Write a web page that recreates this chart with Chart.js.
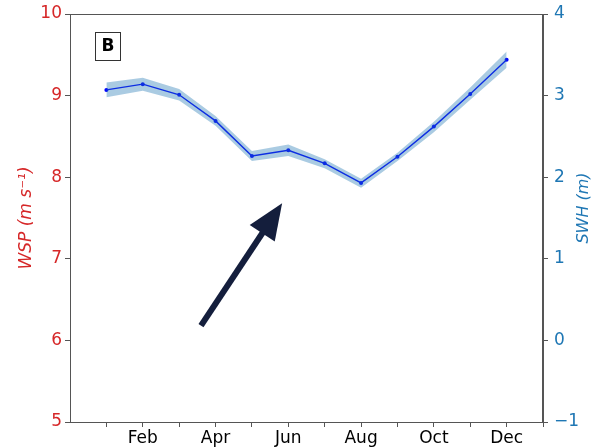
<!DOCTYPE html>
<html>
<head>
<meta charset="utf-8">
<script src="https://cdn.jsdelivr.net/npm/chart.js@4/dist/chart.umd.min.js"></script>
<style>
  html, body { margin: 0; padding: 0; background: #fff; }
  #wrap { width: 593px; height: 447px; }
</style>
</head>
<body>
<div id="wrap"><canvas id="c" width="593" height="447"></canvas></div>
<script>
// Monthly mean wind speed with its spread band
const months = ['Jan','Feb','Mar','Apr','May','Jun','Jul','Aug','Sep','Oct','Nov','Dec'];
const wsp     = [9.07, 9.14, 9.01, 8.69, 8.26, 8.33, 8.17, 7.93, 8.25, 8.62, 9.02, 9.44];
const wspLow  = [8.98, 9.06, 8.94, 8.63, 8.20, 8.26, 8.11, 7.87, 8.20, 8.55, 8.95, 9.34];
const wspHigh = [9.16, 9.22, 9.08, 8.75, 8.32, 8.40, 8.22, 7.98, 8.30, 8.68, 9.10, 9.54];
const wspTicks = [5, 6, 7, 8, 9, 10];
const swhTicks = [-1, 0, 1, 2, 3, 4];
const panelLabel = 'B';
const swhTitle = 'SWH (m)';
// annotation arrow, in (month, WSP) units
const arrowFrom = [3.60, 6.18];
const arrowTo   = [5.83, 7.68];

const RED = '#d62728';
const TEAL = '#1f77b4';
const SPINE = '#555555';
const FONT = "'DejaVu Sans', sans-serif";

const pts = arr => arr.map((v, i) => ({ x: i + 1, y: v }));

const frame = {
  id: 'frame',
  afterDatasetsDraw(chart) {
    const { ctx, chartArea: a, scales } = chart;
    ctx.save();
    // box round the plot
    ctx.strokeStyle = SPINE;
    ctx.lineWidth = 1;
    ctx.strokeRect(a.left + 0.5, a.top + 0.5, a.right - a.left - 1, a.bottom - a.top);
    // panel letter
    const bx = a.left + 25, by = a.top + 18, bw = 25, bh = 28;
    ctx.fillStyle = '#fff';
    ctx.fillRect(bx, by, bw, bh);
    ctx.strokeStyle = '#333';
    ctx.strokeRect(bx + 0.5, by + 0.5, bw, bh);
    ctx.font = "bold 17px " + FONT;
    ctx.textAlign = 'center';
    ctx.textBaseline = 'middle';
    ctx.fillStyle = '#000';
    ctx.fillText(panelLabel, bx + bw / 2 + 0.5, by + bh / 2 + 1);
    // right axis title, read bottom to top
    ctx.save();
    ctx.translate(a.right + 41, (a.top + a.bottom) / 2 - 10);
    ctx.rotate(-Math.PI / 2);
    ctx.font = "italic 16px " + FONT;
    ctx.fillStyle = TEAL;
    ctx.fillText(swhTitle, 0, 0);
    ctx.restore();
    // arrow
    const x0 = scales.x.getPixelForValue(arrowFrom[0]);
    const y0 = scales.y.getPixelForValue(arrowFrom[1]);
    const x1 = scales.x.getPixelForValue(arrowTo[0]);
    const y1 = scales.y.getPixelForValue(arrowTo[1]);
    const ang = Math.atan2(y1 - y0, x1 - x0);
    const headLen = 36, headHalf = 15;
    const hx = x1 - headLen * Math.cos(ang), hy = y1 - headLen * Math.sin(ang);
    ctx.strokeStyle = '#141e3c';
    ctx.fillStyle = '#141e3c';
    ctx.lineWidth = 6;
    ctx.lineCap = 'butt';
    ctx.beginPath();
    ctx.moveTo(x0, y0);
    ctx.lineTo(hx + 4 * Math.cos(ang), hy + 4 * Math.sin(ang));
    ctx.stroke();
    ctx.beginPath();
    ctx.moveTo(x1, y1);
    ctx.lineTo(hx - headHalf * Math.sin(ang), hy + headHalf * Math.cos(ang));
    ctx.lineTo(hx + headHalf * Math.sin(ang), hy - headHalf * Math.cos(ang));
    ctx.closePath();
    ctx.fill();
    ctx.restore();
  }
};

const fitVertical = w => s => { s.width = w; s.paddingTop = 0; s.paddingBottom = 0; };

new Chart(document.getElementById('c'), {
  type: 'line',
  data: {
    datasets: [
      {
        data: pts(wspLow),
        borderWidth: 0,
        pointRadius: 0,
        fill: false,
        yAxisID: 'y'
      },
      {
        data: pts(wspHigh),
        borderWidth: 0,
        pointRadius: 0,
        backgroundColor: 'rgba(31,119,180,0.38)',
        fill: '-1',
        yAxisID: 'y'
      },
      {
        data: pts(wsp),
        borderColor: '#0000ff',
        borderWidth: 1.4,
        pointRadius: 2,
        pointBackgroundColor: '#0000ff',
        pointBorderWidth: 0,
        fill: false,
        yAxisID: 'y'
      }
    ]
  },
  options: {
    responsive: false,
    animation: false,
    events: [],
    layout: { padding: { top: 14, left: 0, right: 0, bottom: 0 } },
    plugins: { legend: { display: false }, tooltip: { enabled: false } },
    scales: {
      x: {
        type: 'linear',
        min: 0,
        max: 13,
        afterBuildTicks: s => { s.ticks = months.map((m, i) => ({ value: i + 1 })).concat([{ value: 13 }]); },
        afterFit: s => { s.height = 25; s.paddingLeft = 0; s.paddingRight = 0; },
        ticks: {
          autoSkip: false,
          maxRotation: 0,
          padding: 1,
          color: '#000',
          font: { family: FONT, size: 17 },
          callback: v => (v % 2 === 0 && v <= 12) ? months[v - 1] : ''
        },
        grid: { drawOnChartArea: false, drawTicks: true, tickLength: 5, tickColor: SPINE },
        border: { display: true, color: SPINE }
      },
      y: {
        position: 'left',
        min: 5,
        max: 10,
        afterBuildTicks: s => { s.ticks = wspTicks.map(v => ({ value: v })); },
        afterFit: fitVertical(70),
        ticks: { color: RED, padding: 3, font: { family: FONT, size: 17 } },
        grid: { drawOnChartArea: false, drawTicks: true, tickLength: 5, tickColor: SPINE },
        border: { display: true, color: SPINE },
        title: {
          display: true,
          text: 'WSP (m s⁻¹)',
          color: RED,
          padding: { top: 16, bottom: 0 },
          font: { family: FONT, size: 17, style: 'italic' }
        }
      },
      y2: {
        position: 'right',
        min: -1,
        max: 4,
        afterBuildTicks: s => { s.ticks = swhTicks.map(v => ({ value: v })); },
        afterFit: fitVertical(50),
        ticks: {
          color: TEAL,
          padding: 6,
          font: { family: FONT, size: 17 },
          callback: v => (v < 0 ? '\u2212' + Math.abs(v) : String(v))
        },
        grid: { drawOnChartArea: false, drawTicks: true, tickLength: 5, tickColor: SPINE },
        border: { display: true, color: SPINE }
      }
    }
  },
  plugins: [frame]
});
</script>
</body>
</html>
